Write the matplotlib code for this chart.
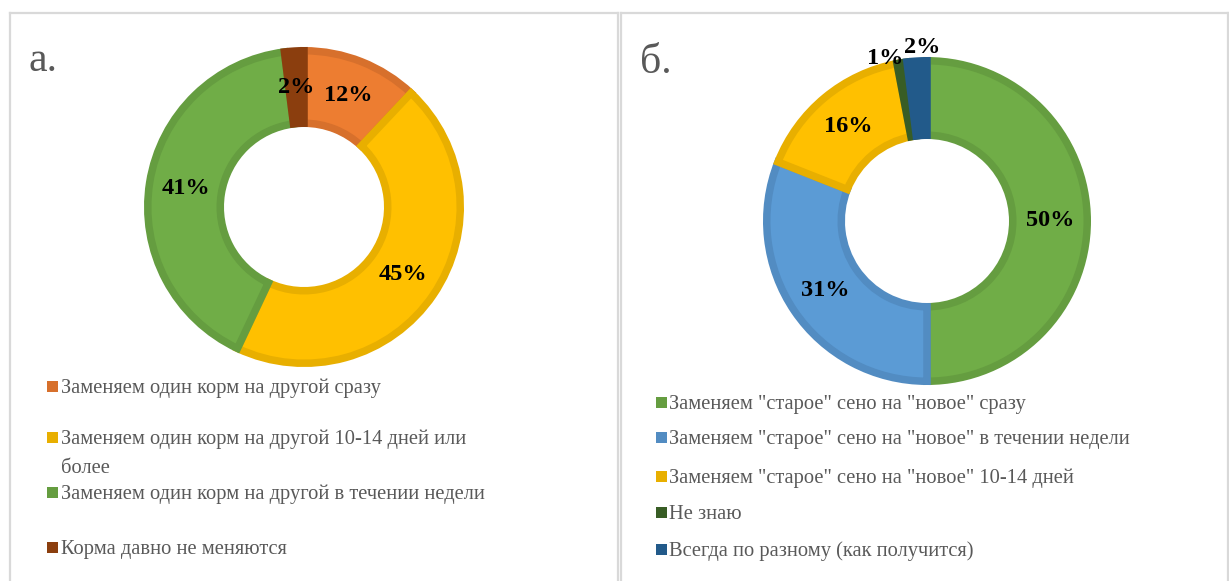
import numpy as np
import matplotlib
matplotlib.use("Agg")
import matplotlib.pyplot as plt
from matplotlib.patches import Rectangle
from matplotlib.lines import Line2D

# ---------------- data ----------------
left_categories = [
    "Заменяем один корм на другой сразу",
    "Заменяем один корм на другой 10-14 дней или\nболее",
    "Заменяем один корм на другой в течении недели",
    "Корма давно не меняются",
]
left_values = [12, 45, 41, 2]

right_categories = [
    'Заменяем "старое" сено на "новое" сразу',
    'Заменяем "старое" сено на "новое" в течении недели',
    'Заменяем "старое" сено на "новое" 10-14 дней',
    "Не знаю",
    "Всегда по разному (как получится)",
]
right_values = [50, 31, 16, 1, 2]

# ---------------- style ----------------
left_fill = ["#ED7D31", "#FFC000", "#70AD47", "#8B3E0E"]
left_edge = ["#D7702C", "#E8AF00", "#659D40", "#8B3E0E"]
right_fill = ["#70AD47", "#5B9BD5", "#FFC000", "#385D25", "#225A8A"]
right_edge = ["#659D40", "#528CC2", "#E8AF00", "#385D25", "#225A8A"]
# label offsets (axes units) for crowded small slices
right_label_shift = [(0, 0), (0, 0), (0, 0), (-0.14, 0.25), (0.02, 0.31)]
left_label_shift = [(0, 0), (0, 0), (0, 0), (0, 0)]

W, H = 1229, 581
fig = plt.figure(figsize=(W / 100, H / 100), dpi=100)
fig.patch.set_facecolor("white")


def fx(x):
    return x / W


def fy(y):
    return 1 - y / H


SERIF = ["Liberation Serif", "DejaVu Serif"]
GRAY = "#595959"

# panel borders
for (x0, x1) in [(10, 618), (621, 1228)]:
    kw = dict(color="#D9D9D9", lw=1.6, transform=fig.transFigure)
    fig.add_artist(Line2D([fx(x0), fx(x1)], [fy(13), fy(13)], **kw))
    fig.add_artist(Line2D([fx(x0), fx(x0)], [fy(13), fy(H + 5)], **kw))
    fig.add_artist(Line2D([fx(x1), fx(x1)], [fy(13), fy(H + 5)], **kw))


def donut(cx, cy, R, values, fills, edges, shifts):
    ax = fig.add_axes([fx(cx - R), fy(cy + R), 2 * R / W, 2 * R / H])
    ax.axis("off")
    lw_px = 7.5
    r_path = 1 - (lw_px / 2) / R
    width = 0.5 - lw_px / R
    wedges, _ = ax.pie(values, radius=r_path, startangle=90, counterclock=False,
                       colors=fills,
                       wedgeprops=dict(width=width, linewidth=lw_px * 0.72,
                                       joinstyle="miter"))
    for w, e in zip(wedges, edges):
        w.set_edgecolor(e)
        w.set_clip_on(False)
    ax.set_xlim(-1, 1)
    ax.set_ylim(-1, 1)
    ax.set_aspect("equal")
    total = sum(values)
    cum = 0
    for v, (dx, dy) in zip(values, shifts):
        mid = 90 - (cum + v / 2) / total * 360
        cum += v
        r = 0.75
        x = r * np.cos(np.radians(mid)) + dx
        y = r * np.sin(np.radians(mid)) + dy
        ax.text(x, y, f"{v}%", ha="center", va="center", fontsize=17.5,
                fontweight="bold", family=SERIF, color="black", clip_on=False)
    return ax


donut(304, 207, 160, left_values, left_fill, left_edge, left_label_shift)
donut(927, 221, 164, right_values, right_fill, right_edge, right_label_shift)

# panel letters
fig.text(fx(29), fy(61), "а.", fontsize=30, family=SERIF, color=GRAY,
         ha="left", va="center")
fig.text(fx(640), fy(63), "б.", fontsize=30, family=SERIF, color=GRAY,
         ha="left", va="center")

SQ = 11
LINE_STEP = 29


def legend_entry(x_sq, x_txt, yb, lab, c):
    fig.add_artist(Rectangle((fx(x_sq), fy(yb)), SQ / W, SQ / H,
                             facecolor=c, edgecolor="none",
                             transform=fig.transFigure))
    for i, line in enumerate(lab.split("\n")):
        fig.text(fx(x_txt), fy(yb + 1 + i * LINE_STEP), line, fontsize=14.8,
                 family=SERIF, color=GRAY, ha="left", va="baseline")


left_sq_bottom = [392, 443, 498, 553]
for yb, lab, c in zip(left_sq_bottom, left_categories, left_edge):
    legend_entry(47, 61, yb, lab, c)

right_sq_bottom = [408, 443, 482, 518, 555]
for yb, lab, c in zip(right_sq_bottom, right_categories, right_edge):
    legend_entry(656, 669, yb, lab, c)

fig.savefig("out.png", dpi=100, facecolor="white")
